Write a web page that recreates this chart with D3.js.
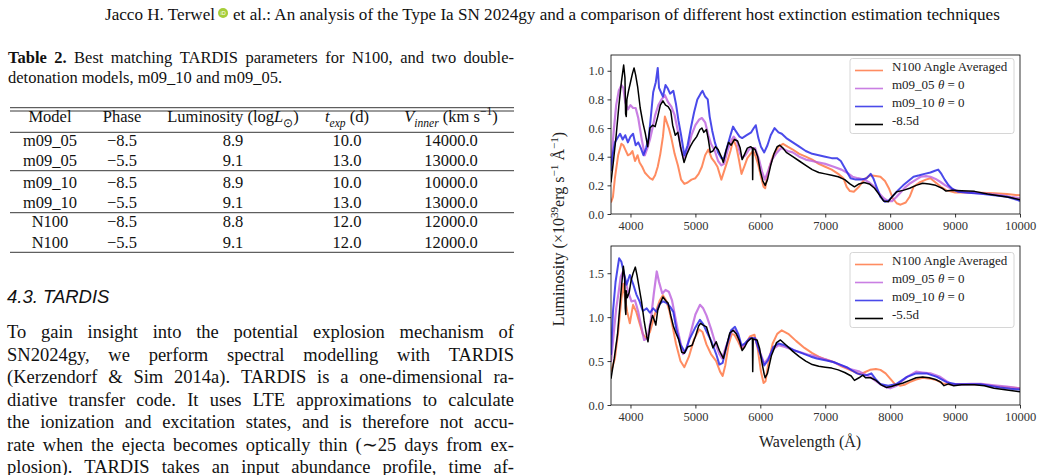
<!DOCTYPE html>
<html>
<head>
<meta charset="utf-8">
<script src="https://cdn.jsdelivr.net/npm/d3@7"></script>
<style>
  body { margin: 0; background: #fff; }
  svg { display: block; }
</style>
</head>
<body>
<svg id="page" width="1041" height="475"></svg>
<script>
// ---------- page text ----------
const headerLeft = "Jacco H. Terwel";
const headerRight = "et al.: An analysis of the Type Ia SN 2024gy and a comparison of different host extinction estimation techniques";
const captionLines = [
  "Table 2. Best matching TARDIS parameters for N100, and two double-",
  "detonation models, m09_10 and m09_05."
];
const tableHeaders = [
  [{t: "Model"}],
  [{t: "Phase"}],
  [{t: "Luminosity (log"}, {t: "L", i: 1}, {t: "⊙", sub: 1}, {t: ")"}],
  [{t: "t", i: 1}, {t: "exp", i: 1, sub: 1}, {t: " (d)"}],
  [{t: "V", i: 1}, {t: "inner", i: 1, sub: 1}, {t: " (km s"}, {t: "−1", sup: 1}, {t: ")"}]
];
const tableModels = ["m09_05", "m09_05", "m09_10", "m09_10", "N100", "N100"];
const tablePhases = ["−8.5", "−5.5", "−8.5", "−5.5", "−8.5", "−5.5"];
const tableLum = ["8.9", "9.1", "8.9", "9.1", "8.8", "9.1"];
const tableTexp = ["10.0", "13.0", "10.0", "13.0", "12.0", "12.0"];
const tableVinner = ["14000.0", "13000.0", "10000.0", "13000.0", "12000.0", "12000.0"];
const sectionTitle = "4.3. TARDIS";
const paragraphLines = [
  "To gain insight into the potential explosion mechanism of",
  "SN2024gy, we perform spectral modelling with TARDIS",
  "(Kerzendorf & Sim 2014a). TARDIS is a one-dimensional ra-",
  "diative transfer code. It uses LTE approximations to calculate",
  "the ionization and excitation states, and is therefore not accu-",
  "rate when the ejecta becomes optically thin (∼25 days from ex-",
  "plosion). TARDIS takes an input abundance profile, time af-"
];

// ---------- chart data ----------
const wavelengthTicks = [4000, 5000, 6000, 7000, 8000, 9000, 10000];
const topLumTicks = [0.0, 0.2, 0.4, 0.6, 0.8, 1.0];
const bottomLumTicks = [0.0, 0.5, 1.0, 1.5];
const seriesNames = ["N100 Angle Averaged", "m09_05", "m09_10"];

// top panel, -8.5d  [wavelength, luminosity]
const n100Top = [[3700,0.08],[3730,0.12],[3760,0.25],[3810,0.41],[3860,0.49],[3890,0.48],[3920,0.45],[3960,0.41],[4000,0.42],[4030,0.44],[4070,0.37],[4110,0.41],[4140,0.36],[4180,0.33],[4220,0.29],[4260,0.27],[4300,0.25],[4340,0.24],[4380,0.27],[4420,0.33],[4460,0.42],[4500,0.54],[4530,0.68],[4560,0.64],[4590,0.60],[4630,0.53],[4680,0.42],[4730,0.34],[4780,0.24],[4830,0.21],[4880,0.22],[4940,0.24],[5000,0.25],[5050,0.28],[5100,0.33],[5150,0.41],[5200,0.45],[5250,0.39],[5300,0.36],[5340,0.33],[5400,0.24],[5450,0.31],[5500,0.38],[5540,0.44],[5585,0.52],[5630,0.47],[5670,0.38],[5710,0.28],[5760,0.34],[5800,0.39],[5850,0.42],[5890,0.44],[5930,0.40],[5970,0.34],[6010,0.26],[6050,0.19],[6075,0.18],[6110,0.27],[6150,0.34],[6200,0.41],[6280,0.47],[6350,0.49],[6420,0.47],[6500,0.45],[6600,0.42],[6700,0.40],[6800,0.38],[6900,0.35],[7000,0.33],[7100,0.31],[7200,0.28],[7280,0.25],[7330,0.19],[7380,0.16],[7440,0.155],[7520,0.19],[7600,0.24],[7690,0.27],[7780,0.265],[7850,0.26],[7920,0.23],[7980,0.18],[8040,0.11],[8100,0.075],[8160,0.065],[8240,0.08],[8300,0.12],[8360,0.19],[8450,0.22],[8550,0.24],[8620,0.25],[8700,0.22],[8780,0.19],[8870,0.165],[9000,0.15],[9200,0.15],[9400,0.148],[9600,0.145],[9800,0.14],[10000,0.13]];
const m0905Top = [[3700,0.34],[3720,0.45],[3740,0.57],[3780,0.76],[3820,0.86],[3860,0.90],[3890,0.88],[3920,0.78],[3960,0.73],[4000,0.76],[4040,0.74],[4080,0.74],[4120,0.67],[4170,0.53],[4220,0.41],[4260,0.46],[4300,0.52],[4340,0.60],[4380,0.69],[4430,0.76],[4480,0.80],[4530,0.83],[4580,0.78],[4630,0.75],[4680,0.69],[4730,0.58],[4780,0.45],[4820,0.39],[4870,0.43],[4940,0.55],[5000,0.62],[5060,0.66],[5100,0.67],[5150,0.64],[5200,0.55],[5240,0.49],[5300,0.44],[5350,0.37],[5400,0.34],[5440,0.35],[5500,0.45],[5560,0.52],[5590,0.54],[5640,0.51],[5690,0.42],[5720,0.39],[5770,0.41],[5840,0.46],[5920,0.46],[5980,0.38],[6030,0.29],[6070,0.24],[6120,0.30],[6180,0.38],[6240,0.42],[6320,0.46],[6420,0.44],[6500,0.43],[6600,0.40],[6700,0.38],[6850,0.365],[7000,0.35],[7130,0.33],[7250,0.31],[7330,0.29],[7420,0.26],[7500,0.25],[7600,0.24],[7680,0.22],[7760,0.19],[7840,0.14],[7900,0.11],[7970,0.09],[8030,0.09],[8100,0.12],[8160,0.15],[8240,0.19],[8310,0.215],[8400,0.24],[8470,0.26],[8550,0.265],[8620,0.26],[8700,0.245],[8770,0.225],[8850,0.20],[8930,0.18],[9000,0.165],[9100,0.155],[9300,0.148],[9500,0.14],[9700,0.132],[9850,0.12],[10000,0.11]];
const m0910Top = [[3700,0.30],[3720,0.40],[3760,0.50],[3800,0.53],[3840,0.56],[3880,0.52],[3920,0.55],[3960,0.50],[4000,0.54],[4040,0.56],[4080,0.48],[4120,0.50],[4160,0.46],[4200,0.41],[4240,0.46],[4280,0.53],[4310,0.66],[4350,0.85],[4390,0.92],[4420,1.02],[4440,0.88],[4470,0.85],[4500,0.82],[4540,0.90],[4570,0.88],[4610,0.84],[4660,0.86],[4700,0.77],[4740,0.65],[4780,0.55],[4830,0.41],[4880,0.48],[4930,0.60],[4980,0.71],[5030,0.80],[5080,0.84],[5110,0.86],[5150,0.82],[5190,0.80],[5220,0.68],[5260,0.58],[5300,0.50],[5350,0.43],[5400,0.39],[5440,0.39],[5490,0.47],[5540,0.55],[5580,0.61],[5620,0.58],[5680,0.54],[5720,0.53],[5790,0.55],[5860,0.57],[5900,0.60],[5930,0.62],[5970,0.53],[6010,0.47],[6060,0.43],[6110,0.48],[6160,0.55],[6220,0.60],[6280,0.57],[6330,0.56],[6400,0.53],[6500,0.50],[6600,0.47],[6700,0.44],[6800,0.42],[6900,0.41],[7000,0.40],[7100,0.39],[7180,0.39],[7240,0.37],[7290,0.33],[7340,0.29],[7390,0.25],[7470,0.24],[7550,0.24],[7640,0.25],[7700,0.28],[7740,0.25],[7790,0.19],[7850,0.12],[7920,0.085],[7980,0.095],[8050,0.13],[8120,0.165],[8200,0.20],[8280,0.23],[8360,0.26],[8450,0.27],[8530,0.28],[8620,0.29],[8680,0.30],[8740,0.31],[8790,0.28],[8840,0.24],[8900,0.20],[8960,0.175],[9050,0.155],[9200,0.148],[9400,0.142],[9600,0.13],[9800,0.12],[9950,0.10],[10000,0.09]];
const obsTop = [[3700,0.22],[3740,0.38],[3780,0.55],[3820,0.75],[3860,0.92],[3895,1.04],[3915,0.95],[3925,0.70],[3935,0.68],[3945,0.80],[3970,0.86],[4000,0.92],[4030,0.98],[4055,1.02],[4080,0.97],[4110,0.89],[4150,0.74],[4190,0.64],[4230,0.56],[4265,0.47],[4300,0.60],[4340,0.62],[4380,0.61],[4420,0.68],[4460,0.76],[4500,0.79],[4540,0.76],[4580,0.75],[4620,0.72],[4650,0.62],[4690,0.55],[4730,0.57],[4770,0.47],[4825,0.36],[4870,0.42],[4920,0.47],[4970,0.51],[5020,0.54],[5070,0.59],[5100,0.60],[5130,0.57],[5170,0.59],[5200,0.52],[5230,0.43],[5270,0.44],[5310,0.47],[5350,0.45],[5400,0.40],[5430,0.36],[5470,0.44],[5510,0.50],[5550,0.48],[5600,0.52],[5650,0.51],[5690,0.46],[5720,0.38],[5760,0.42],[5800,0.46],[5850,0.47],[5878,0.46],[5882,0.24],[5888,0.46],[5920,0.45],[5960,0.40],[6000,0.30],[6040,0.23],[6075,0.20],[6110,0.24],[6160,0.34],[6210,0.42],[6260,0.47],[6300,0.48],[6350,0.46],[6400,0.43],[6500,0.40],[6600,0.37],[6700,0.34],[6800,0.31],[6900,0.29],[7000,0.28],[7100,0.27],[7200,0.26],[7300,0.24],[7380,0.21],[7450,0.19],[7520,0.21],[7600,0.22],[7680,0.21],[7760,0.18],[7840,0.13],[7900,0.09],[7970,0.085],[8030,0.12],[8100,0.155],[8200,0.165],[8300,0.18],[8400,0.20],[8500,0.215],[8600,0.21],[8700,0.20],[8800,0.18],[8860,0.16],[8950,0.165],[9100,0.162],[9300,0.158],[9500,0.14],[9700,0.125],[9850,0.115],[10000,0.10]];

// bottom panel, -5.5d
const n100Bot = [[3700,0.38],[3760,0.53],[3810,0.83],[3860,1.21],[3890,1.38],[3915,1.22],[3950,1.06],[3990,0.93],[4040,1.14],[4090,1.06],[4140,0.93],[4190,0.81],[4240,0.76],[4300,0.83],[4370,1.02],[4450,1.19],[4500,1.25],[4550,1.19],[4600,1.07],[4650,0.89],[4700,0.70],[4770,0.50],[4830,0.43],[4900,0.55],[4980,0.75],[5060,0.86],[5110,0.83],[5170,0.69],[5240,0.58],[5320,0.50],[5380,0.38],[5420,0.33],[5460,0.45],[5510,0.68],[5560,0.81],[5600,0.80],[5660,0.72],[5710,0.64],[5760,0.68],[5840,0.78],[5910,0.80],[5960,0.64],[6010,0.38],[6050,0.25],[6080,0.27],[6120,0.46],[6190,0.70],[6260,0.81],[6330,0.85],[6430,0.81],[6550,0.73],[6680,0.65],[6800,0.59],[6900,0.55],[7000,0.52],[7130,0.49],[7250,0.44],[7350,0.41],[7440,0.38],[7530,0.35],[7600,0.37],[7690,0.40],[7780,0.41],[7850,0.40],[7930,0.36],[8000,0.30],[8070,0.24],[8150,0.22],[8220,0.23],[8300,0.26],[8400,0.29],[8500,0.31],[8620,0.30],[8720,0.28],[8810,0.245],[8900,0.235],[9050,0.235],[9250,0.235],[9450,0.23],[9650,0.21],[9850,0.20],[10000,0.19]];
const m0905Bot = [[3700,0.49],[3740,0.80],[3780,1.10],[3815,1.27],[3850,1.46],[3885,1.52],[3925,1.40],[3965,1.29],[4015,1.18],[4070,1.19],[4120,1.06],[4170,0.88],[4210,0.74],[4260,0.76],[4310,0.95],[4360,1.27],[4405,1.52],[4440,1.40],[4490,1.27],[4540,1.31],[4590,1.29],[4640,1.19],[4690,1.00],[4740,0.81],[4810,0.58],[4860,0.63],[4930,0.83],[5000,1.03],[5070,1.14],[5120,1.10],[5170,1.02],[5240,0.87],[5300,0.72],[5370,0.58],[5410,0.53],[5480,0.68],[5550,0.83],[5610,0.85],[5660,0.78],[5710,0.66],[5760,0.68],[5840,0.76],[5920,0.76],[5990,0.61],[6060,0.47],[6120,0.53],[6200,0.64],[6280,0.68],[6380,0.66],[6530,0.62],[6620,0.60],[6750,0.57],[6870,0.55],[7000,0.52],[7120,0.49],[7250,0.45],[7380,0.41],[7530,0.38],[7690,0.32],[7840,0.24],[7950,0.20],[8000,0.19],[8100,0.22],[8180,0.27],[8260,0.32],[8400,0.38],[8500,0.37],[8620,0.36],[8770,0.32],[8850,0.28],[8930,0.24],[9080,0.235],[9250,0.24],[9400,0.24],[9600,0.225],[9800,0.21],[10000,0.19]];
const m0910Bot = [[3700,0.57],[3730,1.06],[3770,1.40],[3800,1.55],[3825,1.67],[3860,1.63],[3900,1.50],[3940,1.37],[3990,1.48],[4040,1.38],[4090,1.26],[4140,1.18],[4190,1.07],[4250,1.10],[4300,1.05],[4350,1.10],[4400,1.06],[4450,1.15],[4500,1.18],[4560,1.16],[4610,1.12],[4660,1.06],[4710,0.85],[4770,0.69],[4840,0.60],[4910,0.75],[4990,0.87],[5070,0.97],[5120,0.92],[5170,0.84],[5250,0.72],[5320,0.58],[5370,0.46],[5420,0.48],[5480,0.67],[5550,0.85],[5610,0.89],[5660,0.81],[5710,0.68],[5760,0.70],[5840,0.76],[5920,0.76],[5980,0.62],[6060,0.45],[6120,0.51],[6200,0.66],[6280,0.70],[6380,0.68],[6530,0.62],[6640,0.59],[6780,0.55],[6870,0.53],[7000,0.51],[7125,0.49],[7230,0.46],[7330,0.43],[7420,0.39],[7490,0.36],[7580,0.34],[7640,0.34],[7710,0.36],[7770,0.30],[7845,0.24],[7970,0.22],[8100,0.24],[8180,0.28],[8260,0.32],[8400,0.36],[8560,0.36],[8720,0.32],[8870,0.26],[9000,0.24],[9080,0.235],[9390,0.235],[9690,0.20],[9850,0.185],[10000,0.175]];
const obsBot = [[3700,0.30],[3750,0.53],[3800,0.80],[3850,1.25],[3890,1.58],[3910,1.45],[3920,1.10],[3928,1.03],[3935,1.30],[3950,1.22],[3980,1.28],[4010,1.42],[4040,1.50],[4075,1.57],[4100,1.48],[4130,1.35],[4170,1.18],[4210,0.96],[4250,0.78],[4270,0.72],[4300,0.90],[4340,1.02],[4370,0.96],[4390,0.91],[4420,1.08],[4460,1.16],[4500,1.23],[4540,1.19],[4580,1.16],[4620,1.02],[4660,0.90],[4700,0.82],[4740,0.75],[4790,0.60],[4830,0.59],[4880,0.66],[4950,0.68],[5000,0.78],[5050,0.90],[5080,0.93],[5120,0.91],[5170,0.89],[5220,0.77],[5270,0.65],[5320,0.72],[5370,0.62],[5430,0.53],[5480,0.67],[5530,0.82],[5580,0.85],[5630,0.81],[5680,0.73],[5720,0.62],[5760,0.66],[5800,0.72],[5860,0.76],[5878,0.76],[5883,0.38],[5890,0.75],[5950,0.74],[5990,0.64],[6020,0.50],[6060,0.35],[6075,0.31],[6110,0.36],[6170,0.56],[6250,0.71],[6310,0.74],[6400,0.68],[6500,0.61],[6600,0.55],[6700,0.50],[6800,0.46],[6900,0.44],[7000,0.43],[7100,0.42],[7200,0.40],[7300,0.37],[7400,0.33],[7450,0.28],[7520,0.31],[7580,0.34],[7620,0.31],[7700,0.31],[7780,0.28],[7860,0.23],[7940,0.20],[8020,0.21],[8100,0.23],[8200,0.25],[8300,0.28],[8400,0.31],[8500,0.32],[8600,0.31],[8700,0.29],[8780,0.26],[8830,0.22],[8900,0.24],[8980,0.22],[9100,0.23],[9300,0.23],[9450,0.22],[9600,0.19],[9800,0.17],[10000,0.15]];

// ---------- drawing ----------
const serif = "'Liberation Serif', 'Times New Roman', serif";
const svg = d3.select("#page").attr("font-family", serif);
svg.append("rect").attr("width", 1041).attr("height", 475).attr("fill", "#fff");

// rich text helper: segments with italic / sub / sup
function rich(textSel, segs, size) {
  let shift = 0;
  segs.forEach(s => {
    const target = s.sub ? size * 0.3 : s.sup ? -size * 0.4 : 0;
    textSel.append("tspan")
      .attr("dy", target - shift)
      .attr("font-size", (s.sub || s.sup) ? size * 0.7 : size)
      .attr("font-style", s.i ? "italic" : null)
      .text(s.t);
    shift = target;
  });
  return textSel;
}

// justified line helper (words spread between x0 and x1)
function justify(g, line, x0, x1, y, size, boldWords) {
  const words = line.split(" ");
  const nodes = words.map((w, i) => g.append("text")
    .attr("y", y).attr("dy", "0.35em")
    .attr("font-size", size)
    .attr("font-weight", i < boldWords ? "bold" : null)
    .text(w));
  const widths = nodes.map(n => n.node().getComputedTextLength());
  const gap = (x1 - x0 - d3.sum(widths)) / (words.length - 1);
  let x = x0;
  nodes.forEach((n, i) => { n.attr("x", x); x += widths[i] + gap; });
}

const colRight = 514;

// header
const head = svg.append("g").attr("fill", "#111");
const hSize = 17.1;
const hl = head.append("text").attr("x", 105).attr("y", 14).attr("dy", "0.35em").attr("font-size", hSize).text(headerLeft);
const hlW = hl.node().getComputedTextLength();
const ox = 105 + hlW + 8;
head.append("circle").attr("cx", ox).attr("cy", 13).attr("r", 5).attr("fill", "#a6ce39");
head.append("text").attr("x", ox).attr("y", 13).attr("dy", "0.35em").attr("text-anchor", "middle")
  .attr("font-size", 5.5).attr("font-family", "'Liberation Sans', sans-serif").attr("fill", "#fff").text("iD");
head.append("text").attr("x", ox + 10).attr("y", 14).attr("dy", "0.35em").attr("font-size", hSize).text(headerRight);

// caption
const cap = svg.append("g").attr("fill", "#111");
justify(cap, captionLines[0], 8, colRight, 57, 16.5, 2);
cap.append("text").attr("x", 8).attr("y", 77).attr("dy", "0.35em").attr("font-size", 16.5).text(captionLines[1]);

// table
const tbl = svg.append("g").attr("fill", "#111");
const colX = [50, 122, 233, 347, 451];
const ruleY = [107.7, 111, 132.3, 170.7, 212.7, 252.3];
tbl.selectAll("line.rule").data(ruleY).join("line")
  .attr("x1", 10).attr("x2", colRight).attr("y1", d => d).attr("y2", d => d)
  .attr("stroke", "#222").attr("stroke-width", 0.9);
tableHeaders.forEach((segs, i) => {
  const t = tbl.append("text").attr("x", colX[i]).attr("y", 121.7).attr("dy", "0.35em")
    .attr("text-anchor", "middle").attr("font-size", 16.5);
  rich(t, segs, 16.5);
});
const rowY = [140.5, 160.7, 182, 202.3, 221.7, 242.3];
const cols = [tableModels, tablePhases, tableLum, tableTexp, tableVinner];
cols.forEach((col, ci) => {
  tbl.selectAll(null).data(col).join("text")
    .attr("x", colX[ci]).attr("y", (d, i) => rowY[i]).attr("dy", "0.35em")
    .attr("text-anchor", "middle").attr("font-size", 16.5).text(d => d);
});

// section heading + paragraph
svg.append("text").attr("x", 7).attr("y", 297).attr("dy", "0.35em")
  .attr("font-family", "'Liberation Sans', Arial, sans-serif").attr("font-style", "italic")
  .attr("font-size", 18.5).attr("fill", "#111").text(sectionTitle);
const para = svg.append("g").attr("fill", "#111");
paragraphLines.forEach((line, i) => justify(para, line, 7, colRight, 331.7 + i * 22.55, 18.5, 0));

// ---------- spectra panels ----------
const x = d3.scaleLinear().domain([3700, 10000]).range([611, 1020]);
const colors = ["#ff7f50", "#bb5fdc", "#2a2ae6", "#000"];
const opac = [0.9, 0.8, 0.85, 1];
const widths = [2.0, 2.2, 2.0, 1.5];
const panels = [
  {top: 55, bottom: 214, ymax: 1.11, ticks: topLumTicks, series: [n100Top, m0905Top, m0910Top, obsTop], phase: "-8.5d", legendY: 58.5},
  {top: 246, bottom: 405, ymax: 1.81, ticks: bottomLumTicks, series: [n100Bot, m0905Bot, m0910Bot, obsBot], phase: "-5.5d", legendY: 252.5}
];

panels.forEach((p, pi) => {
  const y = d3.scaleLinear().domain([0, p.ymax]).range([p.bottom, p.top]);
  const g = svg.append("g");
  const clipId = "clip" + pi;
  g.append("clipPath").attr("id", clipId).append("rect")
    .attr("x", 611).attr("y", p.top).attr("width", 409).attr("height", p.bottom - p.top);

  const line = d3.line().x(d => x(d[0])).y(d => y(d[1]));
  g.append("g").attr("clip-path", `url(#${clipId})`)
    .selectAll("path").data(p.series).join("path")
    .attr("d", line).attr("fill", "none")
    .attr("stroke", (d, i) => colors[i]).attr("stroke-opacity", (d, i) => opac[i])
    .attr("stroke-width", (d, i) => widths[i]).attr("stroke-linejoin", "round");

  const xa = g.append("g").attr("transform", `translate(0,${p.bottom})`)
    .call(d3.axisBottom(x).tickValues(wavelengthTicks).tickFormat(d3.format("d")).tickSize(3.5).tickPadding(3.5));
  const ya = g.append("g").attr("transform", "translate(611,0)")
    .call(d3.axisLeft(y).tickValues(p.ticks).tickFormat(d3.format(".1f")).tickSize(3.5).tickPadding(3.5));
  [xa, ya].forEach(a => {
    a.select(".domain").remove();
    a.attr("font-family", serif).attr("font-size", 12.5);
    a.selectAll(".tick line").attr("stroke", "#000").attr("stroke-width", 0.8);
    a.selectAll(".tick text").attr("fill", "#333");
  });
  g.append("rect").attr("x", 611).attr("y", p.top).attr("width", 409).attr("height", p.bottom - p.top)
    .attr("fill", "none").attr("stroke", "#000").attr("stroke-width", 0.8);

  // legend
  const lg = g.append("g").attr("transform", `translate(850,${p.legendY})`);
  lg.append("rect").attr("width", 164).attr("height", 75).attr("rx", 2.5)
    .attr("fill", "#fff").attr("fill-opacity", 0.8).attr("stroke", "#ccc").attr("stroke-width", 0.8);
  const labels = [
    [{t: seriesNames[0]}],
    [{t: seriesNames[1] + " "}, {t: "θ", i: 1}, {t: " = 0"}],
    [{t: seriesNames[2] + " "}, {t: "θ", i: 1}, {t: " = 0"}],
    [{t: p.phase}]
  ];
  labels.forEach((segs, i) => {
    const ly = 12 + i * 18;
    lg.append("line").attr("x1", 5).attr("x2", 33).attr("y1", ly).attr("y2", ly)
      .attr("stroke", colors[i]).attr("stroke-opacity", opac[i]).attr("stroke-width", 1.6);
    const t = lg.append("text").attr("x", 42).attr("y", ly).attr("dy", "0.35em")
      .attr("font-size", 13).attr("fill", "#222");
    rich(t, segs, 13);
  });
});

// axis labels
svg.append("text").attr("x", 810).attr("y", 441).attr("dy", "0.35em").attr("text-anchor", "middle")
  .attr("font-size", 16).attr("fill", "#222").text("Wavelength (Å)");
const yl = svg.append("text").attr("transform", "translate(564,229) rotate(-90)")
  .attr("dy", "0.35em").attr("text-anchor", "middle").attr("font-size", 16).attr("fill", "#222");
rich(yl, [{t: "Luminosity (×10"}, {t: "39", sup: 1}, {t: "erg s"}, {t: "−1", sup: 1}, {t: " Å"}, {t: "−1", sup: 1}, {t: ")"}], 16);
</script>
</body>
</html>
